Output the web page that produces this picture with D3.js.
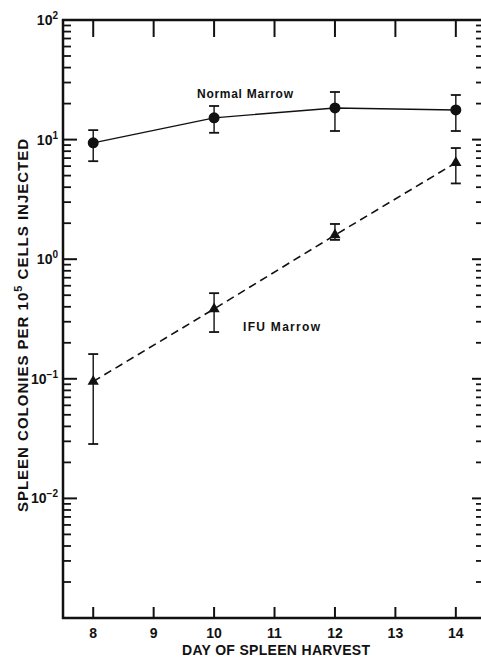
<!DOCTYPE html>
<html>
<head>
<meta charset="utf-8">
<script src="https://cdn.jsdelivr.net/npm/d3@7"></script>
<style>
  html, body { margin: 0; padding: 0; background: #fff; }
  svg { display: block; }
  text { font-family: "Liberation Sans", Arial, sans-serif; fill: #111; }
</style>
</head>
<body>
<div id="chart"></div>
<script>
// ---- Data ----
const days = [8, 10, 12, 14];
const normalMean = [9.4, 15.2, 18.4, 17.7];
const normalHigh = [12.0, 19.1, 25.0, 23.6];
const normalLow  = [6.6, 11.4, 11.8, 11.8];
const ifuMean = [0.095, 0.384, 1.59, 6.4];
const ifuHigh = [0.161, 0.52, 1.97, 8.5];
const ifuLow  = [0.0285, 0.246, 1.45, 4.3];
const xTicks = [8, 9, 10, 11, 12, 13, 14];
const yDecades = [1e-3, 1e-2, 1e-1, 1e0, 1e1, 1e2];
const yLabelExps = ["-2", "-1", "0", "1", "2"];
const seriesNames = ["Normal Marrow", "IFU Marrow"];
const xTitle = "DAY OF SPLEEN HARVEST";

// ---- Layout ----
const W = 481, H = 660;
const L = 63, R = 480, T = 20, B = 618;
const svg = d3.select("#chart").append("svg").attr("width", W).attr("height", H);

const x = d3.scaleLinear().domain([7.5, 14.4]).range([L, R]);
const y = d3.scaleLog().domain([1e-3, 1e2]).range([B, T]);

const ink = "#111";

// minor ticks
const minor = [];
for (let e = -3; e < 2; e++) for (let m = 2; m <= 9; m++) minor.push(m * Math.pow(10, e));

// left axis
const g = svg.append("g");
g.append("line").attr("x1", L).attr("x2", L).attr("y1", T - 1).attr("y2", B + 1)
  .attr("stroke", ink).attr("stroke-width", 2.5);
g.selectAll(".lmaj").data(yDecades).enter().append("line")
  .attr("x1", L).attr("x2", L + 14).attr("y1", d => y(d)).attr("y2", d => y(d))
  .attr("stroke", ink).attr("stroke-width", 2);
g.selectAll(".lmin").data(minor).enter().append("line")
  .attr("x1", L).attr("x2", L + 8).attr("y1", d => y(d)).attr("y2", d => y(d))
  .attr("stroke", ink).attr("stroke-width", 1.8);
// right ticks
g.selectAll(".rmaj").data(yDecades).enter().append("line")
  .attr("x1", R + 1).attr("x2", R - 8).attr("y1", d => y(d)).attr("y2", d => y(d))
  .attr("stroke", ink).attr("stroke-width", 2);
g.selectAll(".rmin").data(minor).enter().append("line")
  .attr("x1", R + 1).attr("x2", R - 4).attr("y1", d => y(d)).attr("y2", d => y(d))
  .attr("stroke", ink).attr("stroke-width", 1.8);

// top & bottom axis lines
g.append("line").attr("x1", L - 1).attr("x2", W).attr("y1", T).attr("y2", T)
  .attr("stroke", ink).attr("stroke-width", 2.5);
g.append("line").attr("x1", L - 1).attr("x2", W).attr("y1", B).attr("y2", B)
  .attr("stroke", ink).attr("stroke-width", 2.5);
g.selectAll(".tt").data(xTicks).enter().append("line")
  .attr("x1", d => x(d)).attr("x2", d => x(d)).attr("y1", T).attr("y2", T + 17)
  .attr("stroke", ink).attr("stroke-width", 2);
g.selectAll(".bt").data(xTicks).enter().append("line")
  .attr("x1", d => x(d)).attr("x2", d => x(d)).attr("y1", B).attr("y2", B - 11)
  .attr("stroke", ink).attr("stroke-width", 2);

// x tick labels
g.selectAll(".xl").data(xTicks).enter().append("text")
  .attr("x", d => x(d)).attr("y", 638).attr("text-anchor", "middle")
  .attr("font-size", 14).attr("font-weight", "bold").text(d => d);

// y tick labels 10^n
const yl = g.selectAll(".yl").data(yDecades.slice(1)).enter().append("text")
  .attr("x", 58).attr("y", d => y(d) + 5).attr("text-anchor", "end")
  .attr("font-size", 14).attr("font-weight", "bold");
yl.append("tspan").text("10");
yl.append("tspan").attr("font-size", 10).attr("dy", -6).text((d, i) => yLabelExps[i].replace("-", "\u2212"));

// axis titles
svg.append("text").attr("x", 276).attr("y", 655).attr("text-anchor", "middle")
  .attr("font-size", 14).attr("font-weight", "bold")
  .attr("textLength", 188).attr("lengthAdjust", "spacing").text(xTitle);

const yt = svg.append("text").attr("transform", "translate(28,325) rotate(-90)")
  .attr("text-anchor", "middle").attr("font-size", 15).attr("font-weight", "bold")
  .attr("letter-spacing", 1);
yt.append("tspan").text("SPLEEN COLONIES PER 10");
yt.append("tspan").attr("font-size", 11).attr("dy", -6).text("5");
yt.append("tspan").attr("dy", 6).text(" CELLS INJECTED");

// ---- Series ----
const normal = days.map((d, i) => ({d, v: normalMean[i], lo: normalLow[i], hi: normalHigh[i]}));
const ifu = days.map((d, i) => ({d, v: ifuMean[i], lo: ifuLow[i], hi: ifuHigh[i]}));
const line = d3.line().x(p => x(p.d)).y(p => y(p.v));

svg.append("path").datum(normal).attr("d", line).attr("fill", "none")
  .attr("stroke", ink).attr("stroke-width", 1.4);
svg.append("path").datum(ifu).attr("d", line).attr("fill", "none")
  .attr("stroke", ink).attr("stroke-width", 1.6).attr("stroke-dasharray", "8,5");

function errorBars(data) {
  const eg = svg.append("g").attr("stroke", ink);
  eg.selectAll(".v").data(data).enter().append("line")
    .attr("x1", p => x(p.d)).attr("x2", p => x(p.d)).attr("y1", p => y(p.lo)).attr("y2", p => y(p.hi))
    .attr("stroke-width", 1.4);
  eg.selectAll(".ch").data(data).enter().append("line")
    .attr("x1", p => x(p.d) - 5).attr("x2", p => x(p.d) + 5).attr("y1", p => y(p.hi)).attr("y2", p => y(p.hi))
    .attr("stroke-width", 1.8);
  eg.selectAll(".cl").data(data).enter().append("line")
    .attr("x1", p => x(p.d) - 5).attr("x2", p => x(p.d) + 5).attr("y1", p => y(p.lo)).attr("y2", p => y(p.lo))
    .attr("stroke-width", 1.8);
}
errorBars(normal);
errorBars(ifu);

svg.selectAll(".dot").data(normal).enter().append("circle")
  .attr("cx", p => x(p.d)).attr("cy", p => y(p.v)).attr("r", 5.5).attr("fill", ink);
const tri = d3.symbol().type(d3.symbolTriangle).size(55);
svg.selectAll(".tri").data(ifu).enter().append("path")
  .attr("d", tri).attr("transform", p => `translate(${x(p.d)},${y(p.v)})`).attr("fill", ink);

// series labels
svg.append("text").attr("x", 245).attr("y", 98).attr("text-anchor", "middle")
  .attr("font-size", 12).attr("font-weight", "bold")
  .attr("textLength", 96).attr("lengthAdjust", "spacing").text(seriesNames[0]);
svg.append("text").attr("x", 243).attr("y", 331).attr("text-anchor", "start")
  .attr("font-size", 12).attr("font-weight", "bold")
  .attr("textLength", 77).attr("lengthAdjust", "spacing").text(seriesNames[1]);
</script>
</body>
</html>
